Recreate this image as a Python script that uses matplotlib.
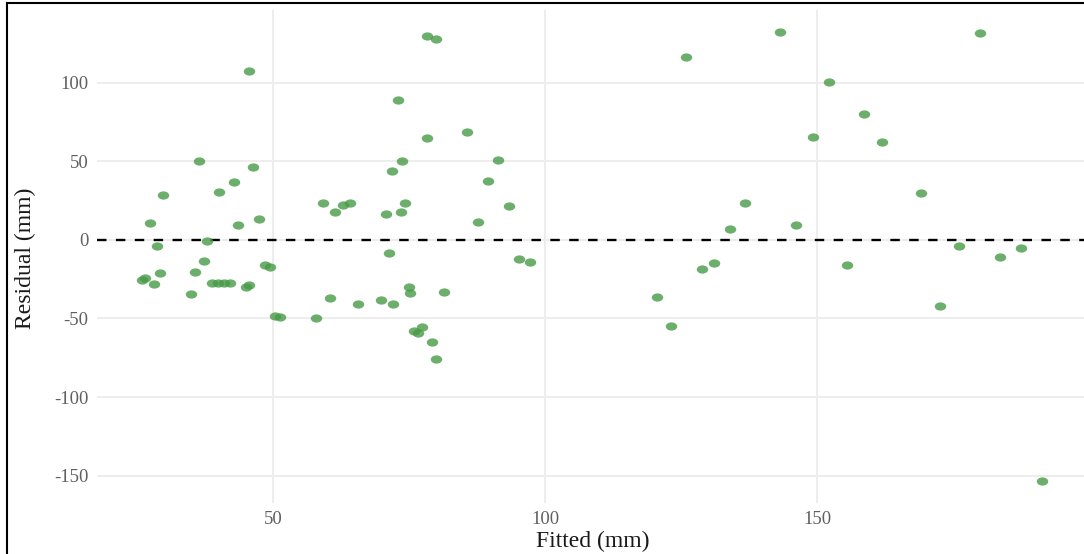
import numpy as np
import matplotlib
matplotlib.use("Agg")
import matplotlib.pyplot as plt
from matplotlib.path import Path
from matplotlib.transforms import Affine2D
from matplotlib.lines import Line2D

# fitted values and residuals of the model (mm)
fitted = [25.9, 26.5, 27.4, 28.0, 28.6, 29.2, 29.7, 34.9, 35.7, 36.4,
          37.2, 37.9, 38.8, 39.9, 40.1, 41.0, 42.0, 42.7, 43.6, 44.9,
          45.5, 45.6, 46.3, 47.3, 48.5, 49.4, 50.4, 51.3,
          57.8, 59.1, 60.4, 61.4, 62.9, 64.2, 65.5, 69.8, 70.7, 71.2,
          71.9, 72.1, 72.9, 73.5, 73.7, 74.3, 75.0, 75.2, 75.8, 76.7,
          77.3, 78.3, 78.3, 79.1, 79.9, 80.0, 81.4, 85.7, 87.6, 89.4,
          91.3, 93.3, 95.2, 97.2,
          120.6, 123.1, 125.9, 128.8, 131.1, 133.9, 136.7, 143.1, 146.1,
          149.2, 152.2, 155.4, 158.6, 161.9, 169.0, 172.6, 176.1, 180.0,
          183.6, 187.4, 191.4]
residual = [-25.4, -24.4, 11.0, -28.0, -3.8, -21.2, 28.4, -34.6, -20.4, 50.3,
            -13.4, -0.6, -27.2, -27.6, 30.5, -27.6, -27.4, 36.5, 9.3, -29.7,
            -28.6, 107.5, 46.6, 13.2, -16.1, -17.0, -48.3, -48.8,
            -49.8, 23.3, -36.7, 17.6, 22.3, 23.7, -40.5, -38.2, 16.5, -8.5,
            43.7, -40.5, 89.1, 17.6, 50.4, 23.7, -30.3, -33.5, -58.3, -59.4,
            -55.2, 64.7, 129.8, -64.9, -75.7, 127.7, -32.9, 68.7, 11.5, 37.7,
            50.7, 21.6, -12.3, -14.4,
            -36.5, -54.5, 116.2, -18.6, -14.8, 7.2, 23.3, 131.9, 9.7,
            65.3, 100.3, -15.7, 80.0, 62.1, 29.9, -41.8, -3.8, 131.5,
            -11.0, -4.9, -153.1]

x_ticks = [50, 100, 150]
y_ticks = [-150, -100, -50, 0, 50, 100]

plt.rcParams['font.family'] = ['Liberation Serif', 'DejaVu Serif']
plt.rcParams['axes.unicode_minus'] = False

W, H = 1084, 554
fig = plt.figure(figsize=(W / 100, H / 100), dpi=100)
fig.patch.set_facecolor('white')

# panel in pixel terms: left 97, right 1087, top 10, bottom 503
ax = fig.add_axes([97 / W, (H - 503) / H, 990 / W, 493 / H])
ax.set_facecolor('white')

ax.set_xlim(17.6, 199.6)
ax.set_ylim(-167.4, 146.2)
ax.set_xticks(x_ticks)
ax.set_yticks(y_ticks)
ax.grid(True, color='#ededed', linewidth=1.4)
ax.set_axisbelow(True)
for s in ax.spines.values():
    s.set_visible(False)
ax.tick_params(length=0, labelsize=13.5, labelcolor='#606060', pad=6)

# zero reference line
ax.axhline(0, color='black', linewidth=1.7, linestyle=(0, (4, 4)), zorder=2)

# slightly wide oval markers
oval = Path.unit_circle().transformed(Affine2D().scale(1.0, 0.72))
ax.scatter(fitted, residual, s=68, marker=oval, color='#479a47',
           alpha=0.8, linewidths=0, zorder=3)

ax.set_xlabel('Fitted (mm)', fontsize=17, color='#1a1a1a')
ax.set_ylabel('Residual (mm)', fontsize=17, color='#1a1a1a')
ax.xaxis.set_label_coords((593 - 97) / 990, (503 - 541) / 493)
ax.xaxis.label.set_verticalalignment('center')
ax.yaxis.set_label_coords((25 - 97) / 990, (503 - 258) / 493)
ax.yaxis.label.set_verticalalignment('center')

# outer frame on the left and top
fig.add_artist(Line2D([7 / W, 7 / W], [0, 1 - 3 / H], color='black',
                      linewidth=1.5, transform=fig.transFigure))
fig.add_artist(Line2D([7 / W, 1], [1 - 3 / H, 1 - 3 / H], color='black',
                      linewidth=1.5, transform=fig.transFigure))

fig.savefig('out.png', dpi=100)
